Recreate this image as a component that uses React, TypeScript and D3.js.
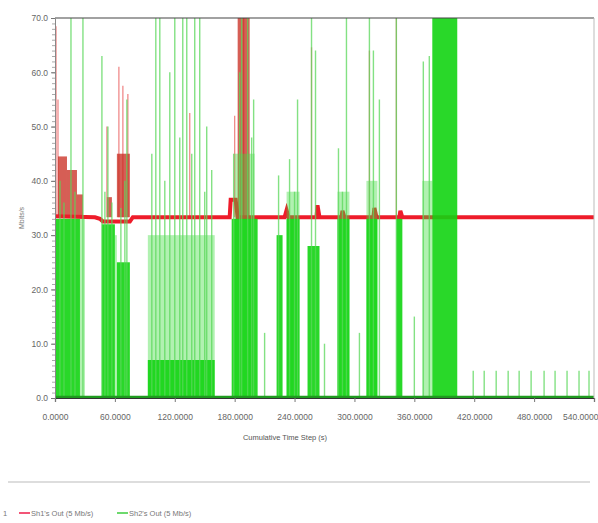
import React, { useRef, useEffect } from "react";
import * as d3 from "d3";

// time axis in seconds, rate in Mb/s
const xTicks = [0, 60, 120, 180, 240, 300, 360, 420, 480, 540];
const yTicks = [0, 10, 20, 30, 40, 50, 60, 70];
const seriesNames = ["Sh1's Out (5 Mb/s)", "Sh2's Out (5 Mb/s)"];

// green: dense bursts [start, end, top]
const greenDense = [
  [0, 25, 33], [47, 60, 32], [62, 75, 25], [93, 160, 7],
  [177, 203, 33], [222, 228, 30], [232, 245, 33], [253, 265, 28],
  [283, 295, 33], [312, 323, 33], [342, 348, 33], [378, 403, 70],
];
// green: lighter haze over bursts [start, end, top]
const greenHaze = [
  [25, 30, 33], [60, 62, 30], [93, 160, 30], [180, 200, 45],
  [232, 245, 38], [283, 295, 38], [312, 323, 40], [368, 378, 40],
];
// green: single spikes [time, peak]
const greenSpikes = [
  [5, 40], [9, 36], [16, 70], [20, 38], [28, 70], [47, 63], [50, 38],
  [53, 50], [57, 36], [66, 35], [70, 40], [72, 55], [97, 45], [101, 70],
  [105, 70], [110, 40], [115, 60], [120, 70], [125, 48], [128, 70],
  [132, 70], [137, 45], [140, 70], [145, 70], [150, 38], [152, 50],
  [157, 42], [179, 45], [185, 60], [187, 70], [193, 70], [197, 48],
  [199, 55], [210, 12], [224, 41], [235, 44], [240, 38], [243, 55],
  [257, 70], [261, 64], [270, 10], [284, 46], [288, 38], [292, 70],
  [305, 12], [315, 70], [319, 64], [325, 55], [342, 70], [360, 15],
  [369, 62], [375, 63],
  [419, 5], [430, 5], [442, 5], [454, 5], [465, 5], [477, 5], [490, 5],
  [501, 5], [513, 5], [525, 5], [535, 5],
];

// red: steady rate line [time, value]
const redLine = [
  [0, 33.5], [40, 33.3], [45, 33.0], [48, 32.5], [75, 32.5], [78, 33.3],
  [175, 33.3], [176, 36.5], [181, 36.5], [183, 33.3], [230, 33.3],
  [232, 34.6], [234, 33.3], [262, 33.3], [263, 35.5], [265, 33.3],
  [287, 33.3], [288, 34.5], [290, 33.3], [319, 33.3], [320, 35],
  [322, 33.3], [345, 33.3], [346, 34.5], [348, 33.3], [540, 33.3],
];
// red: dense bursts [start, end, top]
const redBursts = [
  [3, 12, 44.5], [12, 22, 42], [22, 28, 37.5], [52, 57, 37], [62, 75, 45],
  [183, 195, 70],
];
// red: thin spikes [time, peak]
const redSpikes = [
  [1, 68.5], [3, 55], [52, 50], [64, 61], [68, 57.5], [73, 56], [135, 52.5],
  [180, 52], [189, 70], [257, 64.6], [315, 64], [342, 70],
];

const W = 598;
const H = 523;
const m = { left: 55, right: 594, top: 18, bottom: 398 };
const font = "Liberation Sans, Arial, sans-serif";

const App = () => {
  const ref = useRef<SVGSVGElement | null>(null);

  useEffect(() => {
    if (!ref.current) return;
    const svg = d3.select(ref.current);
    svg.selectAll("*").remove();

    const x = d3.scaleLinear().domain([0, 540]).range([m.left, m.right]);
    const y = d3.scaleLinear().domain([0, 70]).range([m.bottom, m.top]);

    svg
      .append("clipPath")
      .attr("id", "clip")
      .append("rect")
      .attr("x", m.left)
      .attr("y", m.top)
      .attr("width", m.right - m.left)
      .attr("height", m.bottom - m.top);
    const g = svg.append("g").attr("clip-path", "url(#clip)");

    // red series first
    g.selectAll(".rspike")
      .data(redSpikes)
      .enter()
      .append("line")
      .attr("x1", (d) => x(d[0]))
      .attr("x2", (d) => x(d[0]))
      .attr("y1", y(33.3))
      .attr("y2", (d) => y(d[1]))
      .attr("stroke", "#f08a8a")
      .attr("stroke-width", 1.3);

    g.selectAll(".rburst")
      .data(redBursts)
      .enter()
      .append("rect")
      .attr("x", (d) => x(d[0]))
      .attr("width", (d) => x(d[1]) - x(d[0]))
      .attr("y", (d) => y(d[2]))
      .attr("height", (d) => y(33.3) - y(d[2]))
      .attr("fill", "#c8281c")
      .attr("opacity", 0.75);

    const line = d3
      .line()
      .x((d) => x(d[0]))
      .y((d) => y(d[1]));
    g.append("path")
      .datum(redLine)
      .attr("d", line)
      .attr("fill", "none")
      .attr("stroke", "#ee1c2a")
      .attr("stroke-width", 4);

    // green series on top
    g.selectAll(".ghaze")
      .data(greenHaze)
      .enter()
      .append("rect")
      .attr("x", (d) => x(d[0]))
      .attr("width", (d) => x(d[1]) - x(d[0]))
      .attr("y", (d) => y(d[2]))
      .attr("height", (d) => y(0) - y(d[2]))
      .attr("fill", "#3ddc3d")
      .attr("opacity", 0.4);

    g.selectAll(".gdense")
      .data(greenDense)
      .enter()
      .append("rect")
      .attr("x", (d) => x(d[0]))
      .attr("width", (d) => x(d[1]) - x(d[0]))
      .attr("y", (d) => y(d[2]))
      .attr("height", (d) => y(0) - y(d[2]))
      .attr("fill", "#12d412")
      .attr("opacity", 0.9);

    g.selectAll(".gspike")
      .data(greenSpikes)
      .enter()
      .append("line")
      .attr("x1", (d) => x(d[0]))
      .attr("x2", (d) => x(d[0]))
      .attr("y1", y(0))
      .attr("y2", (d) => y(d[1]))
      .attr("stroke", "#5ad85a")
      .attr("stroke-width", 1.4)
      .attr("opacity", 0.75);

    // green floor
    g.append("line")
      .attr("x1", m.left)
      .attr("x2", m.right)
      .attr("y1", y(0) - 1)
      .attr("y2", y(0) - 1)
      .attr("stroke", "#1f9a1f")
      .attr("stroke-width", 2.5);

    // frame
    svg
      .append("line")
      .attr("x1", m.left)
      .attr("x2", m.right)
      .attr("y1", m.top)
      .attr("y2", m.top)
      .attr("stroke", "#444")
      .attr("stroke-width", 1.2);
    svg
      .append("line")
      .attr("x1", m.right)
      .attr("x2", m.right)
      .attr("y1", m.top)
      .attr("y2", m.bottom)
      .attr("stroke", "#bbb");

    // axes
    const xAxis = svg
      .append("g")
      .attr("transform", `translate(0,${m.bottom})`)
      .call(
        d3
          .axisBottom(x)
          .tickValues(xTicks)
          .tickFormat(d3.format(".4f"))
          .tickSize(4)
      );
    xAxis.select(".domain").attr("stroke", "#333").attr("stroke-width", 1.2);
    xAxis.selectAll("line").attr("stroke", "#777");
    xAxis
      .selectAll("text")
      .attr("dy", "1.8em")
      .attr("fill", "#666")
      .attr("font-size", 8.5)
      .attr("font-family", font);
    xAxis
      .selectAll("text")
      .filter((d) => d === 540)
      .attr("text-anchor", "end")
      .attr("dx", 4);

    const yMinor = svg
      .append("g")
      .attr("transform", `translate(${m.left},0)`)
      .call(d3.axisLeft(y).ticks(70).tickSize(3).tickFormat(() => ""));
    yMinor.select(".domain").remove();
    yMinor.selectAll("line").attr("stroke", "#aaa");

    const yAxis = svg
      .append("g")
      .attr("transform", `translate(${m.left},0)`)
      .call(
        d3
          .axisLeft(y)
          .tickValues(yTicks)
          .tickFormat(d3.format(".1f"))
          .tickSize(4)
      );
    yAxis.select(".domain").attr("stroke", "#888");
    yAxis.selectAll("line").attr("stroke", "#777");
    yAxis
      .selectAll("text")
      .attr("fill", "#666")
      .attr("font-size", 8.5)
      .attr("font-family", font);

    svg
      .append("text")
      .attr("x", 285)
      .attr("y", 440)
      .attr("text-anchor", "middle")
      .attr("font-size", 7.5)
      .attr("fill", "#555")
      .attr("font-family", font)
      .text("Cumulative Time Step (s)");

    svg
      .append("text")
      .attr("transform", `translate(24,218) rotate(-90)`)
      .attr("text-anchor", "middle")
      .attr("font-size", 7)
      .attr("fill", "#777")
      .attr("font-family", font)
      .text("Mbits/s");

    // separator
    svg
      .append("line")
      .attr("x1", 8)
      .attr("x2", 590)
      .attr("y1", 482)
      .attr("y2", 482)
      .attr("stroke", "#ddd")
      .attr("stroke-width", 2);

    // legend
    const legend = svg.append("g").attr("font-family", font);
    legend
      .append("text")
      .attr("x", 3)
      .attr("y", 516)
      .attr("font-size", 7.5)
      .attr("fill", "#777")
      .text("1");
    const colors = ["#ee1c4a", "#3ccc3c"];
    const lx = [19, 117];
    seriesNames.forEach((name, i) => {
      legend
        .append("line")
        .attr("x1", lx[i])
        .attr("x2", lx[i] + 11)
        .attr("y1", 513)
        .attr("y2", 513)
        .attr("stroke", colors[i])
        .attr("stroke-width", 1.5);
      legend
        .append("text")
        .attr("x", lx[i] + 12)
        .attr("y", 516)
        .attr("font-size", 7.5)
        .attr("fill", "#777")
        .text(name);
    });
  }, []);

  return (
    <svg
      ref={ref}
      width={W}
      height={H}
      style={{ position: "absolute", left: 0, top: 0, background: "#fff" }}
    />
  );
};

export default App;
